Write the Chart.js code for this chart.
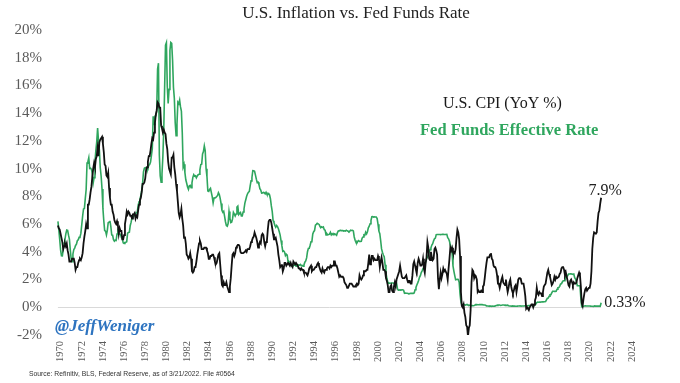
<!DOCTYPE html>
<html>
<head>
<meta charset="utf-8">
<script src="https://cdn.jsdelivr.net/npm/chart.js@4.4.1/dist/chart.umd.min.js"></script>
<style>
  html, body { margin: 0; padding: 0; background: #ffffff; }
  #wrap { width: 680px; height: 383px; }
</style>
</head>
<body>
<div id="wrap"><canvas id="c" width="680" height="383"></canvas></div>
<script>
// ---- Data (monthly, Oct 1970 – Feb 2022) ----
const seriesStartYear = 1970;
const seriesStartMonth = 10; // October

// U.S. CPI, year-over-year %
const cpiYoY = [
  5.9,5.7,5.6,
  5.3,5.0,4.7,4.2,4.4,4.6,4.4,4.6,4.1,3.8,3.3,3.3,
  3.3,3.5,3.5,3.5,3.2,2.7,2.9,2.9,3.2,3.4,3.5,3.4,
  3.6,3.9,4.6,5.1,5.5,6.0,5.7,7.4,7.4,7.8,8.3,8.7,
  9.4,10.0,10.4,10.1,10.7,10.9,11.5,10.9,11.9,12.1,12.2,12.3,
  11.8,11.2,10.3,10.2,9.5,9.4,9.7,8.6,7.9,7.4,7.4,6.9,
  6.7,6.3,6.1,6.0,6.2,5.9,5.3,5.7,5.5,5.5,4.9,4.9,
  5.2,6.0,6.4,6.9,6.7,6.9,6.8,6.6,6.6,6.4,6.7,6.7,
  6.8,6.4,6.6,6.5,7.0,7.4,7.7,7.9,8.3,8.9,8.9,9.0,
  9.3,9.9,10.1,10.5,10.9,10.9,11.3,11.8,12.2,12.1,12.6,13.3,
  13.9,14.2,14.8,14.7,14.4,14.4,13.1,12.9,12.6,12.8,12.6,12.5,
  11.8,11.4,10.5,10.0,9.8,9.6,10.8,10.8,11.0,10.1,9.6,8.9,
  8.4,7.6,6.8,6.5,6.7,7.1,6.4,5.9,5.0,5.1,4.6,3.8,
  3.7,3.5,3.6,3.9,3.5,2.6,2.5,2.6,2.9,2.9,3.3,3.8,
  4.2,4.6,4.8,4.6,4.2,4.2,4.2,4.3,4.3,4.3,4.1,3.9,
  3.5,3.5,3.7,3.7,3.8,3.8,3.6,3.3,3.1,3.2,3.5,3.8,
  3.9,3.1,2.3,1.6,1.5,1.8,1.6,1.6,1.8,1.5,1.3,1.1,
  1.5,2.1,3.0,3.8,3.9,3.7,3.9,4.3,4.4,4.5,4.5,4.4,
  4.0,3.9,3.9,3.9,3.9,4.0,4.1,4.0,4.2,4.2,4.2,4.4,
  4.7,4.8,5.0,5.1,5.4,5.2,5.0,4.7,4.3,4.5,4.7,4.6,
  5.2,5.3,5.2,4.7,4.4,4.7,4.8,5.6,6.2,6.3,6.3,6.1,
  5.7,5.3,4.9,4.9,5.0,4.7,4.4,3.8,3.4,2.9,3.0,3.1,
  2.6,2.8,3.2,3.2,3.0,3.1,3.2,3.1,3.0,3.2,3.0,2.9,
  3.3,3.2,3.1,3.2,3.2,3.0,2.8,2.8,2.7,2.8,2.7,2.7,
  2.5,2.5,2.5,2.4,2.3,2.5,2.8,2.9,3.0,2.6,2.7,2.7,
  2.8,2.9,2.9,3.1,3.2,3.0,2.8,2.6,2.5,2.8,2.6,2.5,
  2.7,2.7,2.8,2.9,2.9,2.8,3.0,2.9,3.0,3.0,3.3,3.3,
  3.0,3.0,2.8,2.5,2.2,2.3,2.2,2.2,2.2,2.1,1.8,1.7,
  1.6,1.4,1.4,1.4,1.7,1.7,1.7,1.6,1.5,1.5,1.5,1.6,
  1.7,1.6,1.7,2.3,2.1,2.0,2.1,2.3,2.6,2.6,2.6,2.7,
  2.7,3.2,3.8,3.1,3.2,3.7,3.7,3.4,3.5,3.4,3.4,3.4,
  3.7,3.5,2.9,3.3,3.6,3.2,2.7,2.7,2.6,2.1,1.9,1.6,
  1.1,1.1,1.5,1.6,1.2,1.1,1.5,1.8,1.5,2.0,2.2,2.4,
  2.6,3.0,3.0,2.2,2.1,2.1,2.1,2.2,2.3,2.0,1.8,1.9,
  1.9,1.7,1.7,2.3,3.1,3.3,3.0,2.7,2.5,3.2,3.5,3.3,
  3.0,3.0,3.1,3.5,2.8,2.5,3.2,3.6,4.7,4.3,3.5,3.4,
  4.0,3.6,3.4,3.5,4.2,4.3,4.1,3.8,2.1,1.3,2.0,2.5,
  2.1,2.4,2.8,2.6,2.7,2.7,2.4,2.0,2.8,3.5,4.3,4.1,
  4.3,4.0,4.0,3.9,4.2,5.0,5.6,5.4,4.9,3.7,1.1,0.1,
  0.0,0.2,-0.4,-0.7,-1.3,-1.4,-2.1,-1.5,-1.3,-0.2,1.8,2.7,
  2.6,2.1,2.3,2.2,2.0,1.1,1.2,1.1,1.1,1.2,1.1,1.5,
  1.6,2.1,2.7,3.2,3.6,3.6,3.6,3.8,3.9,3.5,3.4,3.0,
  2.9,2.9,2.7,2.3,1.7,1.7,1.4,1.7,2.0,2.2,1.8,1.7,
  1.6,2.0,1.5,1.1,1.4,1.8,2.0,1.5,1.2,1.0,1.2,1.5,
  1.6,1.1,1.5,2.0,2.1,2.1,2.0,1.7,1.7,1.7,1.3,0.8,
  -0.1,0.0,-0.1,-0.2,0.0,0.1,0.2,0.2,0.0,0.2,0.5,0.7,
  1.4,1.0,0.9,1.1,1.0,1.0,0.8,1.1,1.5,1.6,1.7,2.1,
  2.5,2.7,2.4,2.2,1.9,1.6,1.7,1.9,2.2,2.0,2.2,2.1,
  2.1,2.2,2.4,2.5,2.8,2.9,2.9,2.7,2.3,2.5,2.2,1.9,
  1.6,1.5,1.9,2.0,1.8,1.6,1.8,1.7,1.7,1.8,2.1,2.3,
  2.5,2.3,1.5,0.3,0.1,0.6,1.0,1.3,1.4,1.2,1.2,1.4,
  1.4,1.7,2.6,4.2,5.0,5.4,5.4,5.3,5.4,6.2,6.8,7.0,
  7.5,7.9
];

// Fed Funds Effective Rate, %
const fedFunds = [
  6.20,5.60,4.90,
  4.14,3.72,3.71,4.16,4.63,4.91,5.31,5.57,5.55,5.20,4.91,4.14,
  3.50,3.29,3.83,4.17,4.27,4.46,4.55,4.80,4.87,5.04,5.06,5.33,
  5.94,6.58,7.09,7.12,7.84,8.49,10.40,10.50,10.78,10.01,10.03,9.95,
  9.65,8.97,9.35,10.51,11.31,11.93,12.92,12.01,11.34,10.06,9.45,8.53,
  7.13,6.24,5.54,5.49,5.22,5.55,6.10,6.14,6.24,5.82,5.22,5.20,
  4.87,4.77,4.84,4.82,5.29,5.48,5.31,5.29,5.25,5.02,4.95,4.65,
  4.61,4.68,4.69,4.73,5.35,5.39,5.42,5.90,6.14,6.47,6.51,6.56,
  6.70,6.78,6.79,6.89,7.36,7.60,7.81,8.04,8.45,8.96,9.76,10.03,
  10.07,10.06,10.09,10.01,10.24,10.29,10.47,10.94,11.43,13.77,13.18,13.78,
  13.82,14.13,17.19,17.61,10.98,9.47,9.03,9.61,10.87,12.81,15.85,18.90,
  19.08,15.93,14.70,15.72,18.52,19.10,19.04,17.82,15.87,15.08,13.31,12.37,
  13.22,14.78,14.68,14.94,14.45,14.15,12.59,10.12,10.31,9.71,9.20,8.95,
  8.68,8.51,8.77,8.80,8.63,8.98,9.37,9.56,9.45,9.48,9.34,9.47,
  9.56,9.59,9.91,10.29,10.32,11.06,11.23,11.64,11.30,9.99,9.43,8.38,
  8.35,8.50,8.58,8.27,7.97,7.53,7.88,7.90,7.92,7.99,8.05,8.27,
  8.14,7.86,7.48,6.99,6.85,6.92,6.56,6.17,5.89,5.85,6.04,6.91,
  6.43,6.10,6.13,6.37,6.85,6.73,6.58,6.73,7.22,7.29,6.69,6.77,
  6.83,6.58,6.58,6.87,7.09,7.51,7.75,8.01,8.19,8.30,8.35,8.76,
  9.12,9.36,9.85,9.84,9.81,9.53,9.24,8.99,9.02,8.84,8.55,8.45,
  8.23,8.24,8.28,8.26,8.18,8.29,8.15,8.13,8.20,8.11,7.81,7.31,
  6.91,6.25,6.12,5.91,5.78,5.90,5.82,5.66,5.45,5.21,4.81,4.43,
  4.03,4.06,3.98,3.73,3.82,3.76,3.25,3.30,3.22,3.10,3.09,2.92,
  3.02,3.03,3.07,2.96,3.00,3.04,3.06,3.03,3.09,2.99,3.02,2.96,
  3.05,3.25,3.34,3.56,4.01,4.25,4.26,4.47,4.73,4.76,5.29,5.45,
  5.53,5.92,5.98,6.05,6.01,6.00,5.85,5.74,5.80,5.76,5.80,5.60,
  5.56,5.22,5.31,5.22,5.24,5.27,5.40,5.22,5.30,5.24,5.31,5.29,
  5.25,5.19,5.39,5.51,5.50,5.56,5.52,5.54,5.54,5.50,5.52,5.50,
  5.56,5.51,5.49,5.45,5.49,5.56,5.54,5.55,5.51,5.07,4.83,4.68,
  4.63,4.76,4.81,4.74,4.74,4.76,4.99,5.07,5.22,5.20,5.42,5.30,
  5.45,5.73,5.85,6.02,6.27,6.53,6.54,6.50,6.52,6.51,6.51,6.40,
  5.98,5.49,5.31,4.80,4.21,3.97,3.77,3.65,3.07,2.49,2.09,1.82,
  1.73,1.74,1.73,1.75,1.75,1.75,1.73,1.74,1.75,1.75,1.34,1.24,
  1.24,1.26,1.25,1.26,1.26,1.22,1.01,1.03,1.01,1.01,1.00,0.98,
  1.00,1.01,1.00,1.00,1.00,1.03,1.26,1.43,1.61,1.76,1.93,2.16,
  2.28,2.50,2.63,2.79,3.00,3.04,3.26,3.50,3.62,3.78,4.00,4.16,
  4.29,4.49,4.59,4.79,4.94,4.99,5.24,5.25,5.25,5.25,5.25,5.24,
  5.25,5.26,5.26,5.25,5.25,5.25,5.26,5.02,4.94,4.76,4.49,4.24,
  3.94,2.98,2.61,2.28,1.98,2.00,2.01,2.00,1.81,0.97,0.39,0.16,
  0.15,0.22,0.18,0.15,0.18,0.21,0.16,0.16,0.15,0.12,0.12,0.12,
  0.11,0.13,0.16,0.20,0.20,0.18,0.18,0.19,0.19,0.19,0.19,0.18,
  0.17,0.16,0.14,0.10,0.09,0.09,0.07,0.10,0.08,0.07,0.08,0.07,
  0.08,0.10,0.13,0.14,0.16,0.16,0.16,0.13,0.14,0.16,0.16,0.16,
  0.14,0.15,0.14,0.15,0.11,0.09,0.09,0.08,0.08,0.09,0.08,0.09,
  0.07,0.07,0.08,0.09,0.09,0.10,0.09,0.09,0.09,0.09,0.09,0.12,
  0.11,0.11,0.11,0.12,0.12,0.13,0.13,0.14,0.14,0.12,0.12,0.24,
  0.34,0.38,0.36,0.37,0.37,0.38,0.39,0.40,0.40,0.40,0.41,0.54,
  0.65,0.66,0.79,0.90,0.91,1.04,1.15,1.16,1.15,1.15,1.16,1.30,
  1.41,1.42,1.51,1.69,1.70,1.82,1.91,1.91,1.95,2.19,2.20,2.27,
  2.40,2.40,2.41,2.42,2.39,2.38,2.40,2.13,2.04,1.83,1.55,1.55,
  1.55,1.58,0.65,0.05,0.05,0.08,0.09,0.10,0.09,0.09,0.09,0.09,
  0.09,0.08,0.07,0.07,0.06,0.08,0.10,0.09,0.08,0.08,0.08,0.08,
  0.08,0.33
];

const xTickYears = [1970,1972,1974,1976,1978,1980,1982,1984,1986,1988,1990,1992,1994,1996,1998,
                    2000,2002,2004,2006,2008,2010,2012,2014,2016,2018,2020,2022,2024];
const yTickValues = [-2,0,2,4,6,8,10,12,14,16,18,20];

const titleText = 'U.S. Inflation vs. Fed Funds Rate';
const cpiLabel = 'U.S. CPI (YoY %)';
const ffLabel = 'Fed Funds Effective Rate';
const handleText = '@JeffWeniger';
const sourceText = 'Source: Refinitiv, BLS, Federal Reserve, as of 3/21/2022. File #0564';

// ---- build points (month -> fractional year) ----
function toPoints(values) {
  const start = seriesStartYear + (seriesStartMonth - 1) / 12;
  return values.map((v, i) => ({ x: start + i / 12, y: v }));
}
const cpiPoints = toPoints(cpiYoY);
const ffPoints = toPoints(fedFunds);

const GREEN = '#2fa65e';
const SERIF = '"Liberation Serif", "DejaVu Serif", serif';

const textPlugin = {
  id: 'textPlugin',
  beforeDatasetsDraw(chart) {
    const { ctx, scales: { x, y } } = chart;
    const y0 = y.getPixelForValue(0);
    ctx.save();
    ctx.strokeStyle = '#d9d9d9';
    ctx.lineWidth = 1;
    ctx.beginPath();
    ctx.moveTo(x.getPixelForValue(cpiPoints[0].x), Math.round(y0) + 0.5);
    ctx.lineTo(x.getPixelForValue(cpiPoints[cpiPoints.length - 1].x), Math.round(y0) + 0.5);
    ctx.stroke();
    ctx.restore();
  },
  afterDraw(chart) {
    const { ctx, scales: { x, y } } = chart;
    ctx.save();
    // title
    ctx.fillStyle = '#222';
    ctx.font = '17px ' + SERIF;
    ctx.textAlign = 'center';
    ctx.textBaseline = 'middle';
    ctx.fillText(titleText, 356, 14);
    // legend texts
    ctx.textAlign = 'left';
    ctx.font = '16px ' + SERIF;
    ctx.fillStyle = '#1a1a1a';
    ctx.fillText(cpiLabel, 443, 104);
    ctx.font = 'bold 16.5px ' + SERIF;
    ctx.fillStyle = GREEN;
    ctx.fillText(ffLabel, 420, 131);
    // end labels
    const lastC = cpiPoints[cpiPoints.length - 1];
    const lastF = ffPoints[ffPoints.length - 1];
    ctx.fillStyle = '#222';
    ctx.font = '16px ' + SERIF;
    ctx.textAlign = 'center';
    ctx.textBaseline = 'alphabetic';
    ctx.fillText(lastC.y.toFixed(1) + '%', x.getPixelForValue(lastC.x) + 4, y.getPixelForValue(lastC.y) - 3);
    ctx.textAlign = 'left';
    ctx.textBaseline = 'middle';
    ctx.fillText(lastF.y.toFixed(2) + '%', x.getPixelForValue(lastF.x) + 3, y.getPixelForValue(lastF.y));
    // handle
    ctx.fillStyle = '#2e74c0';
    ctx.font = 'italic bold 17px ' + SERIF;
    ctx.fillText(handleText, 55, 327);
    // source
    ctx.fillStyle = '#333';
    ctx.font = '6.8px "Liberation Sans", Arial, sans-serif';
    ctx.fillText(sourceText, 29, 374);
    ctx.restore();
  }
};

new Chart(document.getElementById('c'), {
  type: 'line',
  data: {
    datasets: [
      { label: cpiLabel, data: cpiPoints, borderColor: '#111111', borderWidth: 1.8,
        pointRadius: 0, tension: 0, fill: false },
      { label: ffLabel, data: ffPoints, borderColor: GREEN, borderWidth: 1.6,
        pointRadius: 0, tension: 0, fill: false }
    ]
  },
  options: {
    responsive: false,
    animation: false,
    events: [],
    layout: { padding: { left: 0, right: 48, top: 30, bottom: 0 } },
    plugins: { legend: { display: false }, tooltip: { enabled: false }, title: { display: false } },
    scales: {
      x: {
        type: 'linear', min: 1970, max: 2025,
        afterBuildTicks(s) { s.ticks = xTickYears.map(v => ({ value: v })); },
        afterFit(s) { s.height = 48; },
        grid: { display: false, drawTicks: false },
        border: { display: false },
        ticks: {
          autoSkip: false, minRotation: 90, maxRotation: 90, labelOffset: 10.6, padding: 6,
          color: '#5a5a5a', font: { family: SERIF, size: 10.5 },
          callback: v => String(v)
        }
      },
      y: {
        min: -2, max: 20,
        afterBuildTicks(s) { s.ticks = yTickValues.map(v => ({ value: v })); },
        afterFit(s) { s.width = 50; },
        grid: { display: false, drawTicks: false },
        border: { display: false },
        ticks: {
          padding: 8, color: '#5a5a5a', font: { family: SERIF, size: 15 },
          callback: v => v + '%'
        }
      }
    }
  },
  plugins: [textPlugin]
});
</script>
</body>
</html>
